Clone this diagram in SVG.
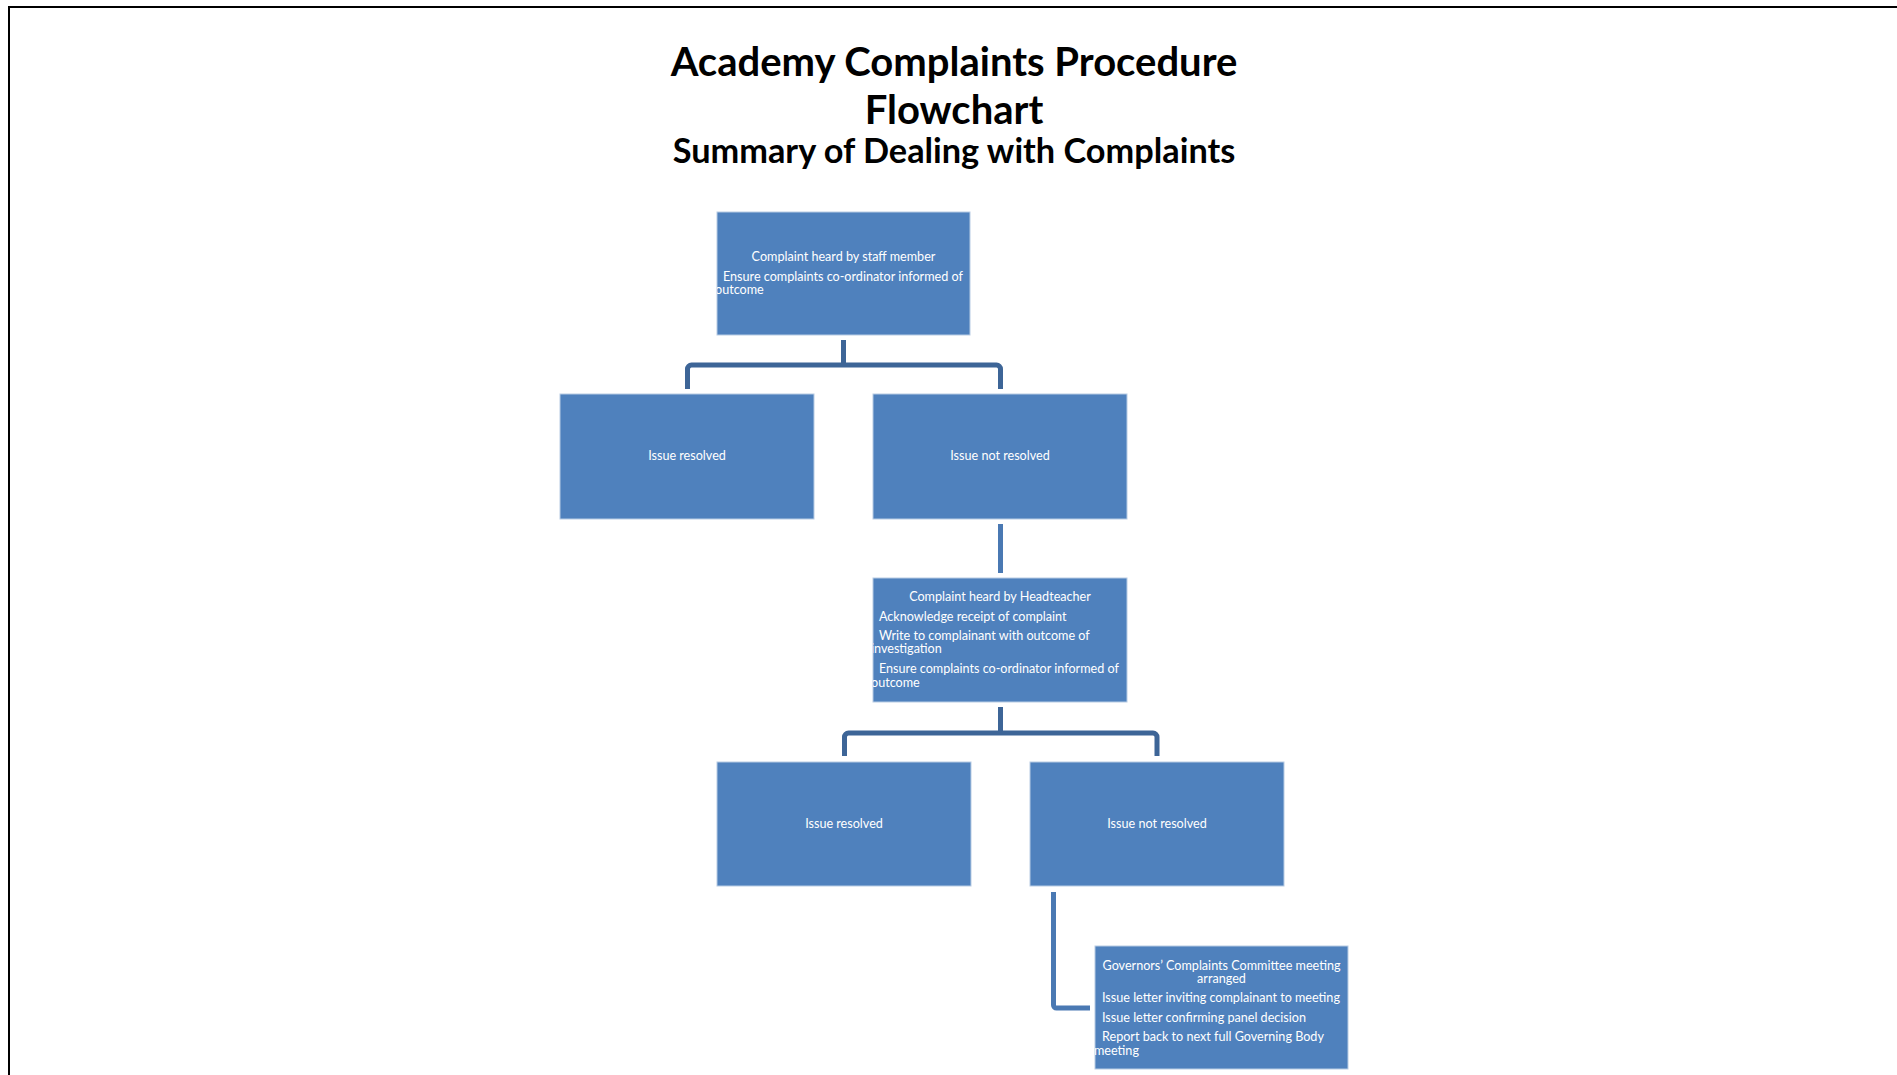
<svg xmlns="http://www.w3.org/2000/svg" width="1897" height="1075" viewBox="0 0 1897 1075">
<style>
.title{font-family:Lato,"Liberation Sans",sans-serif;font-weight:bold;fill:#000;text-anchor:middle}
.box{fill:#4F81BD;stroke:#B8CCE4;stroke-width:1}
.t{font-family:Lato,"Liberation Sans",sans-serif;font-size:12.6px;fill:#fff}
.c{text-anchor:middle}
.tree{fill:none;stroke:#3D6597;stroke-width:5}
.line{fill:none;stroke:#4A79B3;stroke-width:5}
</style>
<defs>
<clipPath id="cA"><rect x="717" y="212" width="253" height="123"/></clipPath>
<clipPath id="cD"><rect x="873" y="578" width="254" height="124"/></clipPath>
<clipPath id="cG"><rect x="1095" y="946" width="253" height="123"/></clipPath>
</defs>
<rect x="0" y="0" width="1897" height="1075" fill="#fff"/>
<path d="M9,1075 V7 H1897" fill="none" stroke="#000" stroke-width="2"/>
<g id="title">
<text class="title" x="954" y="76" font-size="40">Academy Complaints Procedure</text>
<text class="title" x="954" y="123.5" font-size="40">Flowchart</text>
<text class="title" x="954" y="163" font-size="34.3">Summary of Dealing with Complaints</text>
</g>
<g id="connectors">
<path class="tree" d="M843.5,340 V365 M687.5,389 V369 A4,4 0 0 1 691.5,365 H996.5 A4,4 0 0 1 1000.5,369 V389"/>
<path class="line" d="M1000.5,524 V573"/>
<path class="tree" d="M1000.5,707 V733 M844.5,756 V737 A4,4 0 0 1 848.5,733 H1153 A4,4 0 0 1 1157,737 V756"/>
<path class="line" d="M1053.5,892 V1005 A3,3 0 0 0 1056.5,1008 H1090"/>
</g>
<g id="node-staff">
<rect class="box" x="717" y="212" width="253" height="123"/>
<g clip-path="url(#cA)">
<text class="t c" x="843.5" y="261">Complaint heard by staff member</text>
<text class="t" x="723" y="281">Ensure complaints co-ordinator informed of</text>
<text class="t" x="715" y="294">outcome</text>
</g>
</g>
<g id="node-resolved-1">
<rect class="box" x="560" y="394" width="254" height="125"/>
<text class="t c" x="687" y="460">Issue resolved</text>
</g>
<g id="node-notresolved-1">
<rect class="box" x="873" y="394" width="254" height="125"/>
<text class="t c" x="1000" y="460">Issue not resolved</text>
</g>
<g id="node-head">
<rect class="box" x="873" y="578" width="254" height="124"/>
<g clip-path="url(#cD)">
<text class="t c" x="1000" y="601">Complaint heard by Headteacher</text>
<text class="t" x="879" y="621">Acknowledge receipt of complaint</text>
<text class="t" x="879" y="640">Write to complainant with outcome of</text>
<text class="t" x="871" y="653">investigation</text>
<text class="t" x="879" y="673">Ensure complaints co-ordinator informed of</text>
<text class="t" x="871" y="687">outcome</text>
</g>
</g>
<g id="node-resolved-2">
<rect class="box" x="717" y="762" width="254" height="124"/>
<text class="t c" x="844" y="828">Issue resolved</text>
</g>
<g id="node-notresolved-2">
<rect class="box" x="1030" y="762" width="254" height="124"/>
<text class="t c" x="1157" y="828">Issue not resolved</text>
</g>
<g id="node-governors">
<rect class="box" x="1095" y="946" width="253" height="123"/>
<g clip-path="url(#cG)">
<text class="t c" x="1221.5" y="970">Governors’ Complaints Committee meeting</text>
<text class="t c" x="1221.5" y="983">arranged</text>
<text class="t" x="1102" y="1002">Issue letter inviting complainant to meeting</text>
<text class="t" x="1102" y="1022">Issue letter confirming panel decision</text>
<text class="t" x="1102" y="1041">Report back to next full Governing Body</text>
<text class="t" x="1094" y="1055">meeting</text>
</g>
</g>
</svg>
